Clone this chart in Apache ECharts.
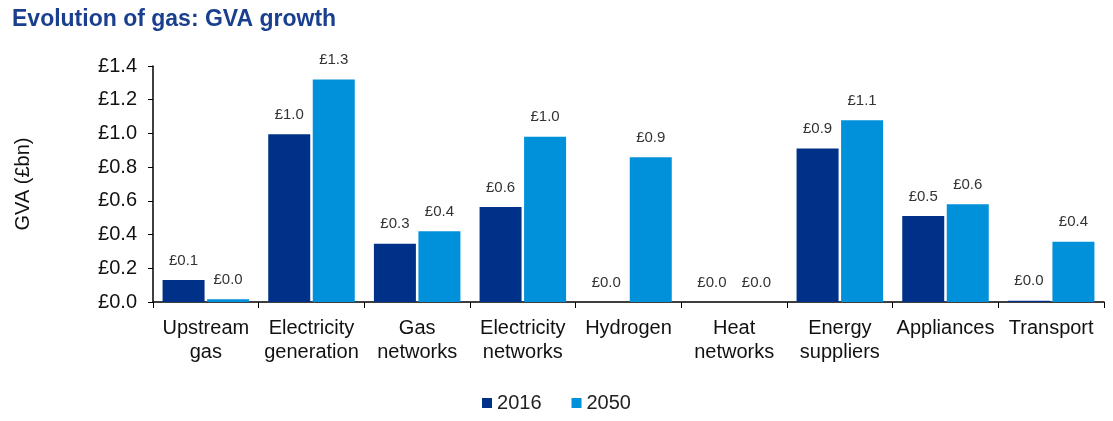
<!DOCTYPE html>
<html>
<head>
<meta charset="utf-8">
<script src="https://cdn.jsdelivr.net/npm/echarts@6/dist/echarts.min.js"></script>
<style>
  html, body { margin: 0; padding: 0; background: #fff; }
  #chart { width: 1113px; height: 421px; }
</style>
</head>
<body>
<div id="chart"></div>
<script>
// categories and values (GVA, £bn)
var categories = ['Upstream\ngas', 'Electricity\ngeneration', 'Gas\nnetworks', 'Electricity\nnetworks', 'Hydrogen',
  'Heat\nnetworks', 'Energy\nsuppliers', 'Appliances', 'Transport'];
var gva2016 = [0.13, 0.995, 0.345, 0.563, 0, 0, 0.91, 0.51, 0.008];
var gva2050 = [0.016, 1.32, 0.42, 0.98, 0.858, 0, 1.078, 0.58, 0.358];
var yTicks = [0, 0.2, 0.4, 0.6, 0.8, 1.0, 1.2, 1.4];

var font = 'Liberation Sans, Arial, sans-serif';

function barLabel () {
  return {
    show: true,
    position: 'top',
    distance: 12,
    color: '#333',
    fontFamily: font,
    fontSize: 15,
    formatter: function (p) { return '£' + p.value.toFixed(1); }
  };
}

var chart = echarts.init(document.getElementById('chart'));
chart.setOption({
  animation: false,
  title: {
    text: 'Evolution of gas: GVA growth',
    left: 7,
    top: 3,
    textStyle: { color: '#1B3F8F', fontFamily: font, fontSize: 23, fontWeight: 'bold' }
  },
  legend: {
    bottom: 3,
    left: 'center',
    itemWidth: 10,
    itemHeight: 10,
    itemGap: 30,
    icon: 'rect',
    textStyle: { fontFamily: font, fontSize: 20, color: '#222' },
    data: ['2016', '2050']
  },
  grid: { left: 153, right: 9, top: 66, bottom: 119 },
  xAxis: {
    type: 'category',
    data: categories,
    axisLine: { lineStyle: { color: '#000', width: 1.5 } },
    axisTick: { show: true, alignWithLabel: false, length: 6, lineStyle: { color: '#000' } },
    axisLabel: { color: '#111', fontFamily: font, fontSize: 20, lineHeight: 24, margin: 14, interval: 0 }
  },
  yAxis: {
    type: 'value',
    min: 0,
    max: 1.4,
    interval: 0.2,
    name: 'GVA (£bn)',
    nameLocation: 'middle',
    nameGap: 120,
    nameRotate: 90,
    nameTextStyle: { color: '#111', fontFamily: font, fontSize: 20 },
    axisLine: { show: true, lineStyle: { color: '#000', width: 1.5 } },
    axisTick: { show: true, length: 5, lineStyle: { color: '#000' } },
    splitLine: { show: false },
    axisLabel: {
      color: '#111',
      fontFamily: font,
      fontSize: 20,
      margin: 16,
      formatter: function (v) {
        var t = yTicks.find(function (x) { return Math.abs(x - v) < 1e-6; });
        return '£' + (t === undefined ? v : t).toFixed(1);
      }
    }
  },
  series: [
    {
      name: '2016',
      type: 'bar',
      data: gva2016,
      barWidth: 42,
      barGap: '6%',
      itemStyle: { color: '#003189' },
      label: barLabel()
    },
    {
      name: '2050',
      type: 'bar',
      data: gva2050,
      barWidth: 42,
      itemStyle: { color: '#0091DA' },
      label: barLabel()
    }
  ]
});
</script>
</body>
</html>
